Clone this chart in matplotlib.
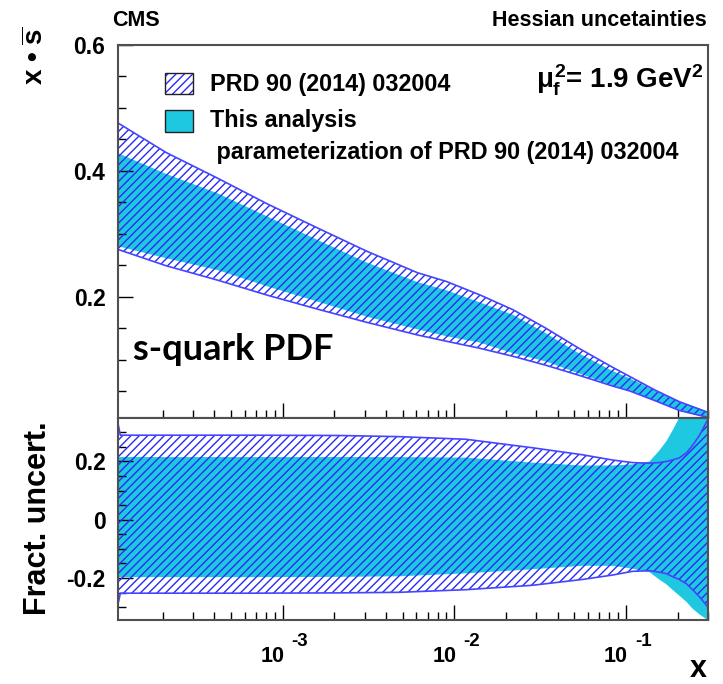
import matplotlib
matplotlib.use('Agg')
import matplotlib.pyplot as plt
from matplotlib.ticker import LogLocator, MultipleLocator, FixedLocator, NullFormatter
from matplotlib.patches import Rectangle

# ---------------- data ----------------
x_top = [1.1e-4, 2.1e-4, 4.2e-4, 8.2e-4, 1.6e-3, 3.1e-3, 6.1e-3, 9.0e-3, 1.4e-2,
         2.2e-2, 3.4e-2, 5.3e-2, 8.3e-2, 0.105, 0.146, 0.204, 0.3]
prd_hi = [0.476, 0.429, 0.388, 0.347, 0.309, 0.272, 0.238, 0.224, 0.203,
          0.179, 0.150, 0.118, 0.088, 0.073, 0.052, 0.033, 0.016]
prd_lo = [0.275, 0.249, 0.226, 0.202, 0.180, 0.159, 0.139, 0.129, 0.118,
          0.105, 0.091, 0.075, 0.058, 0.050, 0.035, 0.019, 0.008]
this_hi = [0.428, 0.395, 0.364, 0.327, 0.290, 0.254, 0.223, 0.210, 0.191,
           0.171, 0.142, 0.110, 0.082, 0.070, 0.051, 0.033, 0.017]
this_lo = [0.280, 0.261, 0.242, 0.216, 0.192, 0.168, 0.148, 0.137, 0.127,
           0.110, 0.097, 0.078, 0.059, 0.051, 0.035, 0.019, 0.007]

x_frac = [1.1e-4, 1.135e-4, 2.05e-4, 6.4e-4, 2.14e-3, 4.8e-3, 1.17e-2, 2.84e-2,
          5.56e-2, 8.3e-2, 0.109, 0.137, 0.156, 0.172, 0.186, 0.204, 0.225,
          0.244, 0.268, 0.3]
prd_frac_hi = [0.33, 0.29, 0.29, 0.29, 0.289, 0.285, 0.276, 0.247, 0.223, 0.205,
               0.196, 0.194, 0.196, 0.200, 0.205, 0.212, 0.230, 0.255, 0.290, 0.345]
prd_frac_lo = [-0.29, -0.252, -0.252, -0.252, -0.251, -0.249, -0.240, -0.225,
               -0.205, -0.190, -0.177, -0.175, -0.180, -0.185, -0.195, -0.205,
               -0.220, -0.240, -0.265, -0.300]
this_frac_hi = [0.215, 0.215, 0.215, 0.215, 0.215, 0.215, 0.213, 0.196, 0.186,
                0.186, 0.190, 0.200, 0.237, 0.270, 0.305, 0.350, 0.400, 0.450,
                0.500, 0.560]
this_frac_lo = [-0.197, -0.197, -0.197, -0.197, -0.196, -0.194, -0.184, -0.170,
                -0.158, -0.158, -0.168, -0.180, -0.205, -0.222, -0.240, -0.260,
                -0.282, -0.305, -0.325, -0.345]

x_major = [1e-3, 1e-2, 1e-1]
x_exponents = ['-3', '-2', '-1']
top_yticks = [0.2, 0.4, 0.6]
top_ylabels = ['0.2', '0.4', '0.6']
bot_yticks = [-0.2, 0.0, 0.2]
bot_ylabels = ['-0.2', '0', '0.2']

legend_labels = ['PRD 90 (2014) 032004', 'This analysis',
                 ' parameterization of PRD 90 (2014) 032004']

# ---------------- style ----------------
plt.rcParams['font.family'] = ['Liberation Sans', 'DejaVu Sans']
plt.rcParams['font.weight'] = 'bold'
plt.rcParams['axes.unicode_minus'] = False
plt.rcParams['hatch.linewidth'] = 1.0
plt.rcParams['mathtext.fontset'] = 'custom'
plt.rcParams['mathtext.rm'] = 'Liberation Sans:bold'
plt.rcParams['mathtext.it'] = 'Liberation Sans:bold'
plt.rcParams['mathtext.bf'] = 'Liberation Sans:bold'
plt.rcParams['mathtext.sf'] = 'Liberation Sans:bold'

CYAN = '#1ec8e0'
BLUE = '#2a2af5'
EDGE = '#4545ff'
FRAME = '#505050'
HATCH = '////'

W, H, DPI = 723, 684, 100
fig = plt.figure(figsize=(W / DPI, H / DPI), dpi=DPI)


def fx(px):
    return px / W


def fy(py):
    return 1 - py / H


L, R, T1, B1, B2 = 118, 708, 45, 418, 620
ax1 = fig.add_axes([fx(L), fy(B1), (R - L) / W, (B1 - T1) / H])
ax2 = fig.add_axes([fx(L), fy(B2), (R - L) / W, (B2 - B1) / H])

# top panel
ax1.fill_between(x_top, this_lo, this_hi, facecolor=CYAN, edgecolor='none', lw=0, zorder=1)
ax1.fill_between(x_top, prd_lo, prd_hi, facecolor='none', edgecolor=BLUE, hatch=HATCH,
                 lw=0, zorder=2)
ax1.plot(x_top, prd_hi, color=EDGE, lw=1.2, zorder=3)
ax1.plot(x_top, prd_lo, color=EDGE, lw=1.2, zorder=3)
# bottom panel
ax2.fill_between(x_frac, this_frac_lo, this_frac_hi, facecolor=CYAN, edgecolor='none',
                 lw=0, zorder=1)
ax2.fill_between(x_frac, prd_frac_lo, prd_frac_hi, facecolor='none', edgecolor=BLUE,
                 hatch=HATCH, lw=0, zorder=2)
ax2.plot(x_frac, prd_frac_hi, color=EDGE, lw=1.2, zorder=3)
ax2.plot(x_frac, prd_frac_lo, color=EDGE, lw=1.2, zorder=3)

for ax in (ax1, ax2):
    ax.set_xscale('log')
    ax.set_xlim(1.1e-4, 0.3)
    ax.xaxis.set_major_locator(FixedLocator(x_major))
    ax.xaxis.set_minor_locator(LogLocator(base=10, subs=[2, 3, 4, 5, 6, 7, 8, 9], numticks=20))
    ax.xaxis.set_major_formatter(NullFormatter())
    ax.xaxis.set_minor_formatter(NullFormatter())
    ax.yaxis.set_minor_locator(MultipleLocator(0.05))
    ax.tick_params(which='both', direction='in', top=False, right=False, color='black',
                   width=1.0, labelsize=16.5, pad=9)
    ax.tick_params(which='major', length=11)
    ax.tick_params(which='minor', length=5.5)
    for sp in ax.spines.values():
        sp.set_color(FRAME)
        sp.set_linewidth(1.5)
        sp.set_zorder(5)

ax1.set_ylim(0.007, 0.6)
ax1.set_yticks(top_yticks)
ax1.set_yticklabels(top_ylabels)
ax2.set_ylim(-0.344, 0.349)
ax2.set_yticks(bot_yticks)
ax2.set_yticklabels(bot_ylabels)

# x tick labels in ROOT style: "10" with raised exponent
for v, e in zip(x_major, x_exponents):
    ax2.annotate('10', xy=(v, 0), xycoords=('data', 'axes fraction'), xytext=(2, -36),
                 textcoords='offset pixels', ha='right', va='center', fontsize=15.5)
    ax2.annotate(e, xy=(v, 0), xycoords=('data', 'axes fraction'), xytext=(9, -22),
                 textcoords='offset pixels', ha='left', va='center', fontsize=13.5)

# axis titles
fig.text(fx(36), fy(56), r'x • $\overline{\mathrm{s}}$', rotation=90, ha='center',
         va='center', fontsize=20)
fig.text(fx(38), fy(518), 'Fract. uncert.', rotation=90, ha='center', va='center',
         fontsize=22)
fig.text(fx(707), fy(669), 'x', ha='right', va='center', fontsize=22)

# header texts
fig.text(fx(112), fy(20), 'CMS', ha='left', va='center', fontsize=15.5)
fig.text(fx(707), fy(20), 'Hessian uncetainties', ha='right', va='center', fontsize=15.5)

# mu text
fig.text(fx(704), fy(80), r'$\mu_{f}^{2}$= 1.9 GeV$^{2}$', ha='right', va='center',
         fontsize=20)

# legend
fig.add_artist(Rectangle((fx(165), fy(94)), 28 / W, 21 / H, transform=fig.transFigure,
                         facecolor='white', edgecolor=BLUE, hatch=HATCH, lw=0))
fig.add_artist(Rectangle((fx(165), fy(94)), 28 / W, 21 / H, transform=fig.transFigure,
                         facecolor='none', edgecolor='#222222', lw=1.0))
fig.add_artist(Rectangle((fx(165), fy(132)), 28 / W, 22 / H, transform=fig.transFigure,
                         facecolor=CYAN, edgecolor='#222222', lw=1.0))
fig.text(fx(210), fy(84), legend_labels[0], ha='left', va='center', fontsize=16.8)
fig.text(fx(210), fy(121), legend_labels[1], ha='left', va='center', fontsize=16.8)
fig.text(fx(210), fy(152), legend_labels[2], ha='left', va='center', fontsize=16.8)

# annotation
fig.text(fx(133), fy(350), 's-quark PDF', ha='left', va='center', fontsize=26,
         family=['Lato', 'DejaVu Sans'], weight='bold')

fig.savefig('out.png', dpi=DPI)
